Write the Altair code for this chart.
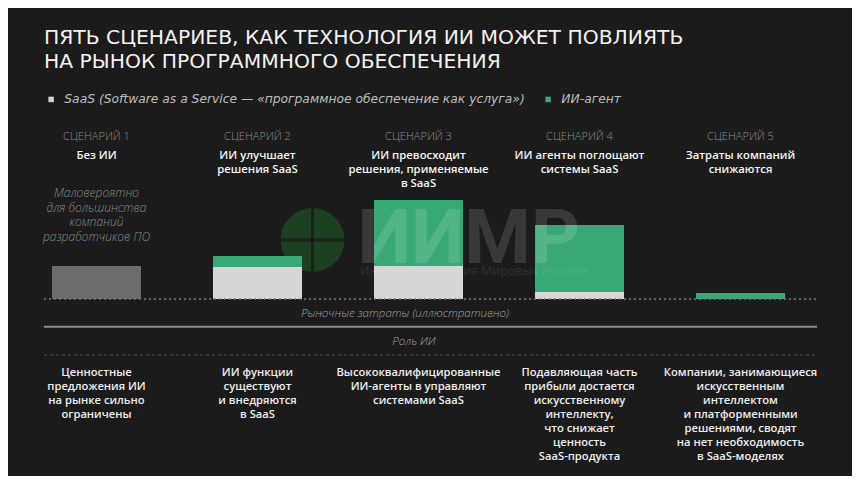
import altair as alt
import pandas as pd

# ---------------- data ----------------
scenarios = [1, 2, 3, 4, 5]
scenario_headers = ["СЦЕНАРИЙ 1", "СЦЕНАРИЙ 2", "СЦЕНАРИЙ 3", "СЦЕНАРИЙ 4", "СЦЕНАРИЙ 5"]
scenario_titles = [
    "Без ИИ",
    "ИИ улучшает\nрешения SaaS",
    "ИИ превосходит\nрешения, применяемые\nв SaaS",
    "ИИ агенты поглощают\nсистемы SaaS",
    "Затраты компаний\nснижаются",
]
no_ai_values = [33, 0, 0, 0, 0]      # scenario 1: market without AI
saas_values = [0, 32, 33, 7, 0]      # SaaS spend (illustrative)
ai_values = [0, 11, 66, 67, 6]       # AI-agent spend (illustrative)
ai_roles = [
    "Ценностные\nпредложения ИИ\nна рынке сильно\nограничены",
    "ИИ функции\nсуществуют\nи внедряются\nв SaaS",
    "Высококвалифицированные\nИИ-агенты в управляют\nсистемами SaaS",
    "Подавляющая часть\nприбыли достается\nискусственному\nинтеллекту,\nчто снижает\nценность\nSaaS-продукта",
    "Компании, занимающиеся\nискусственным\nинтеллектом\nи платформенными\nрешениями, сводят\nна нет необходимость\nв SaaS-моделях",
]
note_text = "Маловероятно\nдля большинства\nкомпаний\nразработчиков ПО"
title_text = "ПЯТЬ СЦЕНАРИЕВ, КАК ТЕХНОЛОГИЯ ИИ МОЖЕТ ПОВЛИЯТЬ\nНА РЫНОК ПРОГРАММНОГО ОБЕСПЕЧЕНИЯ"
series_names = ["SaaS (Software as a Service — «программное обеспечение как услуга»)", "ИИ-агент"]
series_colors = ["#d6d6d6", "#38a874"]
axis_label_market = "Рыночные затраты (иллюстративно)"
axis_label_role = "Роль ИИ"
watermark = "ИИМР"
watermark_sub = "Институт Изучения Мировых Рынков"

# ---------------- tables ----------------
BG = "#1b1b1b"
W, H = 844, 468
HALF = 0.2764

rows = []
for s, sv, av in zip(scenarios, saas_values, ai_values):
    if sv > 0:
        rows.append({"scenario": s, "series": series_names[0], "y0": 0, "y1": sv})
    if av > 0:
        rows.append({"scenario": s, "series": series_names[1], "y0": sv, "y1": sv + av})
bars_df = pd.DataFrame(rows)
bars_df["xl"] = bars_df["scenario"] - HALF
bars_df["xr"] = bars_df["scenario"] + HALF

noai_df = pd.DataFrame({"scenario": scenarios, "v": no_ai_values})
noai_df = noai_df[noai_df["v"] > 0].copy()
noai_df["xl"] = noai_df["scenario"] - HALF
noai_df["xr"] = noai_df["scenario"] + HALF

text_df = pd.DataFrame({
    "scenario": scenarios,
    "header": scenario_headers,
    "title": scenario_titles,
    "role": ai_roles,
})

d0 = 1 - 88.5 / 161
xscale = alt.Scale(domain=[d0, d0 + W / 161], nice=False, zero=False)
yscale = alt.Scale(domain=[-177, 291], nice=False, zero=False)
X = lambda f: alt.X(f, type="quantitative", scale=xscale, axis=None)
Y = lambda f: alt.Y(f, type="quantitative", scale=yscale, axis=None)

base_txt = alt.Chart(text_df)
one = pd.DataFrame({"a": [0]})

# globe of the watermark (under the bars)
globe = alt.Chart(one).mark_point(
    filled=True, shape="circle", color="#1e4f26", opacity=0.75, size=4070
).encode(x=alt.value(304.5), y=alt.value(232))
globe_v = alt.Chart(one).mark_rule(color=BG, strokeWidth=3, opacity=0.8).encode(
    x=alt.value(304.5), y=alt.value(196), y2=alt.value(268))
globe_h = alt.Chart(one).mark_rule(color=BG, strokeWidth=3, opacity=0.8).encode(
    x=alt.value(268.5), x2=alt.value(340.5), y=alt.value(232))

bars = alt.Chart(bars_df).mark_bar().encode(
    x=X("xl"), x2="xr", y=Y("y0"), y2="y1",
    color=alt.Color(
        "series:N",
        scale=alt.Scale(domain=series_names, range=series_colors),
        legend=alt.Legend(
            title=None, orient="none", legendX=37, legendY=85, direction="horizontal",
            symbolType="square", symbolSize=30, symbolStrokeWidth=0,
            labelFont="DejaVu Sans", labelFontStyle="italic", labelFontSize=12.3,
            labelColor="#bdbdbd", labelOffset=7, columnPadding=17, padding=0,
            labelLimit=1000,
        ),
    ),
)
noai = alt.Chart(noai_df).mark_bar(color="#6c6c6c").encode(
    x=X("xl"), x2="xr", y=Y("v"), y2=alt.datum(0)
)

baseline = alt.Chart(one).mark_rule(
    color="#7a7a7a", strokeDash=[2, 3], strokeWidth=1.3
).encode(x=alt.value(36), x2=alt.value(809), y=alt.datum(0, scale=yscale))
solid = alt.Chart(one).mark_rule(color="#8e8e8e", strokeWidth=2).encode(
    x=alt.value(36), x2=alt.value(809), y=alt.value(318.7))
dotted = alt.Chart(one).mark_rule(
    color="#4e4e4e", strokeDash=[3, 3], strokeWidth=1
).encode(x=alt.value(36), x2=alt.value(809), y=alt.value(347))

title = alt.Chart(pd.DataFrame({"t": [title_text]})).mark_text(
    align="left", baseline="alphabetic", lineBreak="\n", lineHeight=23.5,
    font="DejaVu Sans", fontSize=20.3, fontWeight=400, color="#f2f2f2",
).encode(x=alt.value(36), y=alt.value(36), text="t:N")

headers = base_txt.mark_text(
    align="center", baseline="alphabetic", font="Open Sans", fontSize=11,
    fontWeight=300, color="#8c8c8c",
).encode(x=X("scenario"), y=alt.value(132), text="header:N")

titles = base_txt.mark_text(
    align="center", baseline="alphabetic", lineBreak="\n", lineHeight=14,
    font="Open Sans", fontSize=11.3, fontWeight=600, color="#f4f4f4",
).encode(x=X("scenario"), y=alt.value(151), text="title:N")

roles = base_txt.mark_text(
    align="center", baseline="alphabetic", lineBreak="\n", lineHeight=14,
    font="Open Sans", fontSize=11.2, fontWeight=600, color="#eeeeee",
).encode(x=X("scenario"), y=alt.value(367.5), text="role:N")

note = alt.Chart(pd.DataFrame({"scenario": [1], "t": [note_text]})).mark_text(
    align="center", baseline="alphabetic", lineBreak="\n", lineHeight=14.5,
    font="Open Sans", fontSize=12, fontStyle="italic", fontWeight=300, color="#8a8a8a",
).encode(x=X("scenario"), y=alt.value(189), text="t:N")

lab_market = alt.Chart(pd.DataFrame({"t": [axis_label_market]})).mark_text(
    align="center", baseline="alphabetic", font="Open Sans", fontSize=11.5,
    fontStyle="italic", fontWeight=300, color="#a2a2a2",
).encode(x=alt.value(397), y=alt.value(308.5), text="t:N")
lab_role = alt.Chart(pd.DataFrame({"t": [axis_label_role]})).mark_text(
    align="center", baseline="alphabetic", font="Open Sans", fontSize=11.5,
    fontStyle="italic", fontWeight=300, color="#a2a2a2",
).encode(x=alt.value(406), y=alt.value(337), text="t:N")

wm = alt.Chart(pd.DataFrame({"t": [watermark]})).mark_text(
    align="left", baseline="alphabetic", font="Roboto", fontSize=76, fontWeight=700,
    color="#ffffff", opacity=0.13,
).encode(x=alt.value(350), y=alt.value(255), text="t:N")
wm_sub = alt.Chart(pd.DataFrame({"t": [watermark_sub]})).mark_text(
    align="left", baseline="alphabetic", font="Open Sans", fontSize=12.5,
    color="#ffffff", opacity=0.08,
).encode(x=alt.value(352), y=alt.value(267), text="t:N")

chart = alt.layer(
    globe, globe_v, globe_h, noai, bars, baseline, solid, dotted,
    title, headers, titles, roles, note, lab_market, lab_role, wm, wm_sub,
).properties(
    width=W, height=H, background=BG, padding=0,
    autosize=alt.AutoSizeParams(type="none"),
).configure_view(stroke=None)

chart.save("out.html", embed_options={"renderer": "svg", "actions": False})
